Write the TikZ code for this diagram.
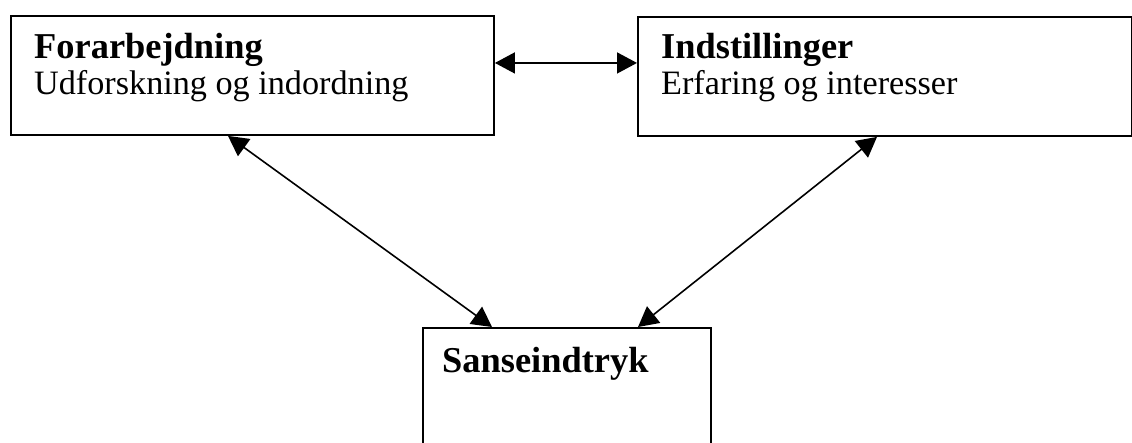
\documentclass[tikz,border=0pt]{standalone}
\usepackage{fontspec}
\setmainfont{Liberation Serif}
\usetikzlibrary{arrows.meta}
\tikzset{
  box/.style={draw=black, line width=1.9pt, rectangle, inner sep=0pt, anchor=north west},
  headtext/.style={anchor=base west, inner sep=0pt, font=\fontsize{36.4}{40}\selectfont\bfseries},
  bodytext/.style={anchor=base west, inner sep=0pt, font=\fontsize{34.2}{40}\selectfont},
  arr/.style={line width=1.6pt, {Triangle[length=20pt,width=21pt]}-{Triangle[length=20pt,width=21pt]}}
}
\begin{document}
\begin{tikzpicture}[x=1pt, y=-1pt]
  \useasboundingbox (0,0) rectangle (1132,442);
  \clip (0,0) rectangle (1132,442);
  % boxes
  \node[box, minimum width=483pt, minimum height=119pt] (forb) at (10,15) {};
  \node[box, minimum width=494pt, minimum height=119pt] (inds) at (637,16) {};
  \node[box, minimum width=288pt, minimum height=150pt] (sans) at (422,327) {};
  % texts
  \node[headtext] (forbT) at (34,58) {Forarbejdning};
  \node[bodytext] (forbS) at (34,94) {Udforskning og indordning};
  \node[headtext] (indsT) at (661,58) {Indstillinger};
  \node[bodytext] (indsS) at (661,94) {Erfaring og interesser};
  \node[headtext] (sansT) at (442,372) {Sanseindtryk};
  % connectors
  \draw[arr] ([yshift=12.5pt]forb.east) -- ([yshift=12.5pt]forb.east -| inds.west);
  \draw[arr] ([xshift=218pt]forb.south west) -- ([xshift=70pt]sans.north west);
  \draw[arr] ([xshift=240pt]inds.south west) -- ([xshift=216pt]sans.north west);
\end{tikzpicture}
\end{document}
